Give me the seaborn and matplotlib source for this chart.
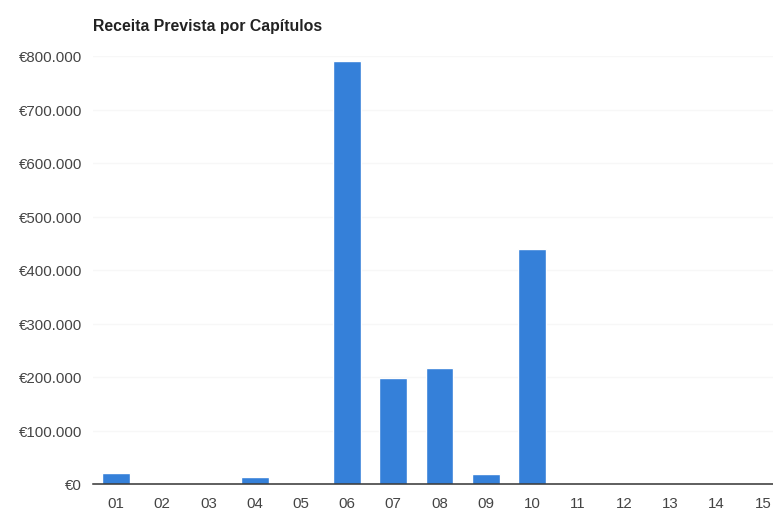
import pandas as pd
import matplotlib.pyplot as plt
import seaborn as sns
from matplotlib.ticker import FuncFormatter

capitulos = ["01", "02", "03", "04", "05", "06", "07", "08", "09", "10", "11", "12", "13", "14", "15"]
receita = [20000, 0, 0, 14000, 0, 791000, 198000, 217000, 18000, 439000, 0, 0, 0, 0, 0]
y_ticks = [0, 100000, 200000, 300000, 400000, 500000, 600000, 700000, 800000]

df = pd.DataFrame({"capitulo": capitulos, "receita": receita})

sns.set_style("white")
plt.rcParams["font.family"] = ["Liberation Sans", "DejaVu Sans"]

fig = plt.figure(figsize=(7.73, 5.10), dpi=100)
ax = fig.add_axes([93 / 773, 25 / 510, 680 / 773, 428 / 510])

sns.barplot(data=df, x="capitulo", y="receita", color="#3580d9", width=0.6,
            saturation=1, ax=ax, zorder=3)

def euro(v, pos):
    return "€" + f"{int(v):,}".replace(",", ".")

ax.set_ylim(0, 800000)
ax.set_xlim(-0.5, 14.22)
ax.set_yticks(y_ticks)
ax.yaxis.set_major_formatter(FuncFormatter(euro))
ax.grid(axis="y", color="#f7f7f7", linewidth=1, zorder=0)
ax.set_xlabel("")
ax.set_ylabel("")
for s in ["top", "right", "left"]:
    ax.spines[s].set_visible(False)
ax.spines["bottom"].set_color("#333333")
ax.spines["bottom"].set_linewidth(1.1)
ax.spines["bottom"].set_zorder(4)
ax.tick_params(axis="both", length=0, labelsize=10.8, colors="#444444")
ax.tick_params(axis="y", pad=8)
ax.tick_params(axis="x", pad=9)

fig.text(93 / 773, 1 - 26 / 510, "Receita Prevista por Capítulos", fontsize=11.4,
         fontweight="bold", color="#222222", va="center", ha="left")

fig.savefig("out.png", dpi=100)
